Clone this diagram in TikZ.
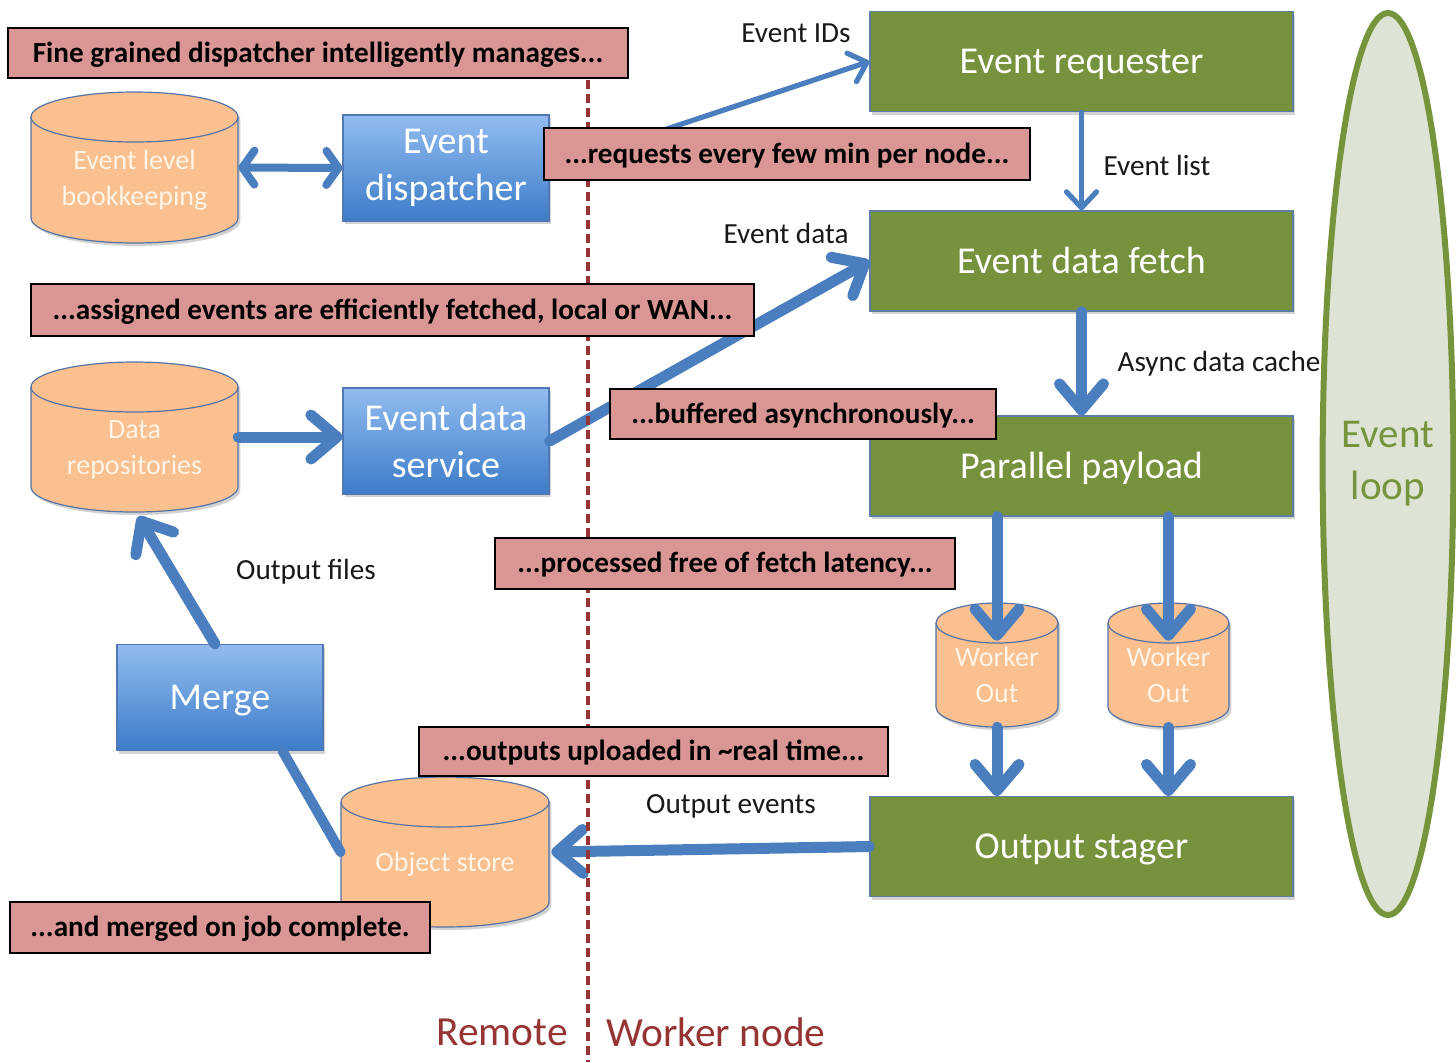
\documentclass[tikz,border=0pt]{standalone}
\usepackage{fontspec}
\setmainfont{Carlito}
\usetikzlibrary{arrows.meta,calc,shapes.geometric,shadows}
\definecolor{ablue}{RGB}{74,126,190}
\definecolor{gboxc}{RGB}{118,146,60}
\definecolor{gline}{RGB}{96,126,160}
\definecolor{btop}{RGB}{146,188,240}
\definecolor{bbot}{RGB}{60,124,200}
\definecolor{bline}{RGB}{80,120,180}
\definecolor{cylf}{RGB}{250,192,143}
\definecolor{cyll}{RGB}{85,115,165}
\definecolor{cyltxt}{RGB}{255,244,230}
\definecolor{bann}{RGB}{217,150,148}
\definecolor{divred}{RGB}{150,52,52}
\definecolor{loopf}{RGB}{221,227,213}
\definecolor{loopg}{RGB}{118,148,60}
\tikzset{
 shad/.style={drop shadow={shadow xshift=1.2pt,shadow yshift=-1.5pt,opacity=0.25,fill=black!70}},
 greenbox/.style={rectangle, fill=gboxc, draw=gline, line width=0.6pt, text=white,
   font=\fontsize{19}{23}\selectfont, minimum width=211.5pt, minimum height=50pt, inner sep=0pt,
   text height=12.2pt, text depth=0pt, shad},
 bluebox/.style={rectangle, top color=btop, bottom color=bbot, draw=bline, line width=0.6pt, text=white,
   font=\fontsize{19}{23.5}\selectfont, align=center, minimum width=103pt, minimum height=53pt, inner sep=0pt, shad},
 banner/.style={rectangle, fill=bann, draw=black, line width=1.3pt,
   font=\bfseries\fontsize{14.6}{18}\selectfont, inner sep=0pt, text=black,
   text height=9.4pt, text depth=0pt},
 lbl/.style={font=\fontsize{14.6}{18}\selectfont, inner sep=0pt, text=black!90},
 cylpath/.style={fill=cylf, draw=cyll, line width=0.6pt},
 cylline/.style={draw=cyll, line width=0.6pt},
 cyltext/.style={text=cyltxt, font=\fontsize{14}{18}\selectfont, align=center, inner sep=0pt},
 cylbox/.style={rectangle, inner sep=0pt},
 arr/.style={draw=ablue, line width=5.5pt, line cap=round, -{Straight Barb[round,length=13pt,width=22pt]}},
 arrs/.style={draw=ablue, line width=2.6pt, line cap=round, -{Straight Barb[round,length=8pt,width=15pt]}},
 arrd/.style={draw=ablue, line width=4pt, line cap=round, {Straight Barb[round,length=6pt,width=17pt]}-{Straight Barb[round,length=6pt,width=17pt]}},
 link/.style={draw=ablue, line width=5pt, line cap=round},
 divider/.style={draw=divred, line width=2pt, dash pattern=on 4.5pt off 2.5pt},
 bigred/.style={text=divred, font=\fontsize{20.7}{25}\selectfont, inner sep=0pt},
 loopnode/.style={ellipse, draw=loopg, line width=3pt, fill=loopf, minimum width=60.5pt, minimum height=451pt,
   inner sep=0pt, text=loopg, font=\fontsize{20.5}{26}\selectfont, align=center},
}
% #1 name, #2 x1, #3 y1, #4 x2, #5 y2, #6 ry (px), #7 text
\newcommand\dbcyl[7]{%
 \pgfmathsetmacro\cylrx{(#4-#2)/4}%
 \pgfmathsetmacro\cylry{#6/2}%
 \pgfmathsetmacro\cyltop{#3+#6}%
 \pgfmathsetmacro\cylbot{#5-#6}%
 \pgfmathsetmacro\cylw{(#4-#2)/2}%
 \pgfmathsetmacro\cylh{(#5-#3)/2}%
 \pgfmathsetmacro\cylcx{(#2+#4)/2}%
 \pgfmathsetmacro\cylcy{(#3+#5)/2}%
 \pgfmathsetmacro\cylty{(#3+#6+#5)/2}%
 \filldraw[cylpath, shad] (#2,\cyltop) -- (#2,\cylbot)
   arc[start angle=180,end angle=360,x radius=\cylrx pt,y radius=\cylry pt]
   -- (#4,\cyltop)
   arc[start angle=0,end angle=180,x radius=\cylrx pt,y radius=\cylry pt] -- cycle;
 \draw[cylline] (#2,\cyltop) arc[start angle=180,end angle=360,x radius=\cylrx pt,y radius=\cylry pt];
 \node[cylbox, minimum width=\cylw pt, minimum height=\cylh pt] (#1) at (\cylcx,\cylcy) {};
 \node[cyltext] (#1t) at (\cylcx,\cylty) {#7};
}
\begin{document}
\begin{tikzpicture}[x=0.5pt,y=-0.5pt]
\useasboundingbox (0,0) rectangle (1456,1062);
\fill[white] (0,0) rectangle (1456,1062);

% event loop
\node[loopnode] (loop) at (1388,464) {Event\\loop};

% green boxes
\node[greenbox] (req) at (1081.5,61.5) {Event requester};
\node[greenbox] (fetch) at (1081.5,261) {Event data fetch};
\node[greenbox] (payload) at (1081.5,466) {Parallel payload};
\node[greenbox] (stager) at (1081.5,846.5) {Output stager};

% blue boxes
\node[bluebox] (disp) at (446,168) {Event\\dispatcher};
\node[bluebox] (serv) at (446,441) {Event data\\service};
\node[bluebox, text height=12.2pt, text depth=0pt] (merge) at (220,697.5) {Merge};

% cylinders
\dbcyl{book}{31}{92}{238}{243}{25}{Event level\\bookkeeping}
\dbcyl{repos}{31}{362}{238}{512}{25}{Data\\repositories}
\dbcyl{w1}{936}{603}{1058}{727}{20}{Worker\\Out}
\dbcyl{w2}{1108}{603}{1229}{727}{20}{Worker\\Out}
\dbcyl{store}{341}{777}{549}{927}{25}{Object store}

% connectors
\draw[arrd] (book.east) -- (disp.west);
\draw[arrs] (disp.east) -- (req.west);
\draw[arrs] (req.south) -- (fetch.north);
\draw[arr] (repos.east) -- (repos.east -| serv.west);
\draw[arr] (serv.east) -- (fetch.west);
\draw[arr] (fetch.south) -- (payload.north);
\draw[arr] (payload.south -| w1.north) -- ($(w1.north)+(0,38)$);
\draw[arr] (payload.south -| w2.north) -- ($(w2.north)+(0,38)$);
\draw[arr] (w1.south) -- (stager.north -| w1.south);
\draw[arr] (w2.south) -- (stager.north -| w2.south);
\draw[arr] (stager.west) -- ($(store.east)+(2,0)$);
\draw[arr] ($(merge.north)+(-5,0)$) -- ($(repos.south)+(4,4)$);
\draw[link] ($(merge.south east)+(-41,0)$) -- (store.west);

% divider
\coordinate (divtop) at (588,80);
\coordinate (divbot) at (588,1062);
\draw[divider] (divtop) -- (divbot);

% banners
\node[banner, minimum width=310pt, minimum height=25pt] (b1) at (318,53) {Fine grained dispatcher intelligently manages...};
\node[banner, minimum width=243pt, minimum height=26pt] (b2) at (787,154) {...requests every few min per node...};
\node[banner, minimum width=361.5pt, minimum height=26pt] (b3) at (392.5,310) {...assigned events are efficiently fetched, local or WAN...};
\node[banner, minimum width=193pt, minimum height=25pt] (b4) at (803,414) {...buffered asynchronously...};
\node[banner, minimum width=230pt, minimum height=25.5pt] (b5) at (725,563.5) {...processed free of fetch latency...};
\node[banner, minimum width=234.5pt, minimum height=24.5pt] (b6) at (653.5,751.5) {...outputs uploaded in \textasciitilde real time...};
\node[banner, minimum width=210pt, minimum height=25.5pt] (b7) at (220,927.5) {...and merged on job complete.};

% labels
\node[lbl] (lids) at (796,33) {Event IDs};
\node[lbl] (llist) at (1157,165) {Event list};
\node[lbl] (ldata) at (786,233) {Event data};
\node[lbl] (lcache) at (1219,364) {Async data cache};
\node[lbl] (lfiles) at (306,572) {Output files};
\node[lbl] (levents) at (731,806) {Output events};
\node[bigred] (lremote) at (502,1032) {Remote};
\node[bigred] (lworker) at (716,1032) {Worker node};
\end{tikzpicture}
\end{document}
